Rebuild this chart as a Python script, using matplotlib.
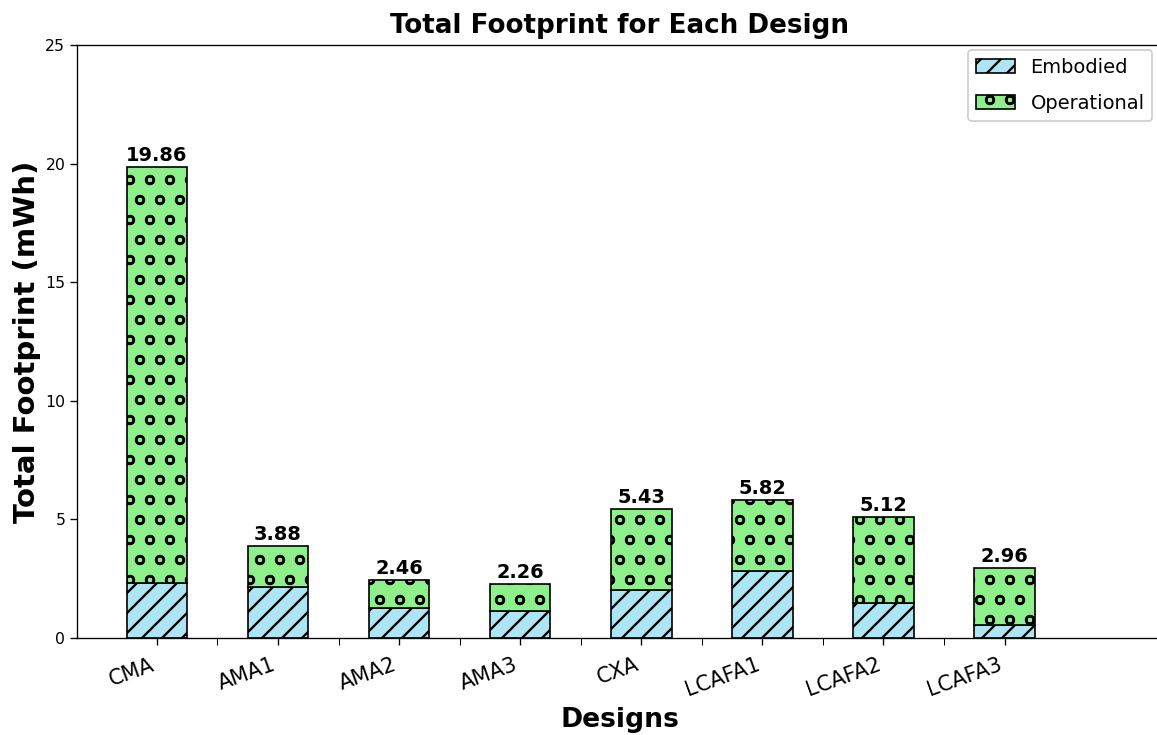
import numpy as np
import matplotlib
matplotlib.use("Agg")
import matplotlib.pyplot as plt

designs = ["CMA", "AMA1", "AMA2", "AMA3", "CXA", "LCAFA1", "LCAFA2", "LCAFA3"]
totals = [19.86, 3.88, 2.46, 2.26, 5.43, 5.82, 5.12, 2.96]
embodied = [2.32, 2.15, 1.26, 1.12, 2.01, 2.84, 1.48, 0.55]
operational = [t - e for t, e in zip(totals, embodied)]

# rendered at dpi 120 so the hatch pattern comes out as coarse as the original
DPI = 120
S = 100 / DPI  # font sizes below are thought of at dpi 100

plt.rcParams["hatch.linewidth"] = 1.4

fig = plt.figure(figsize=(1157 / DPI, 735 / DPI), dpi=DPI)
# axes run a bit past the right edge, like the cropped original
ax = fig.add_axes([77 / 1157, 1 - 638 / 735, 1.02 - 77 / 1157, (638 - 45) / 735])

x = np.arange(len(designs))
width = 0.5
ax.bar(x, embodied, width, color="#aee5f5", edgecolor="black", hatch="//",
       label="Embodied", linewidth=1.0)
ax.bar(x, operational, width, bottom=embodied, color="#8ef08a", edgecolor="black",
       hatch="o", label="Operational", linewidth=1.0)

for xi, t in zip(x, totals):
    ax.text(xi, t + 0.08, f"{t:.2f}", ha="center", va="bottom",
            fontsize=14 * S, fontweight="bold")

ax.set_xlim(-0.66, 8.45)
ax.set_ylim(0, 25)
ax.set_yticks([0, 5, 10, 15, 20, 25])
ax.tick_params(axis="y", labelsize=11.3 * S, length=4, pad=3)
ax.set_xticks(x)
ax.set_xticks(x[:-1] + 0.5, minor=True)
ax.set_xticklabels(designs, rotation=20, ha="right", fontsize=15 * S)
ax.tick_params(axis="x", which="both", length=4, pad=6)

ax.set_title("Total Footprint for Each Design", fontsize=18.8 * S,
             fontweight="bold", pad=7, x=0.492)
ax.set_xlabel("Designs", fontsize=19.2 * S, fontweight="bold", labelpad=4, x=0.492)
ax.set_ylabel("Total Footprint (mWh)", fontsize=21 * S, fontweight="bold", labelpad=2.5)

ax.spines["right"].set_visible(False)

ax.legend(loc="upper left", bbox_to_anchor=(0.808, 0.992), borderaxespad=0,
          fontsize=14 * S, handlelength=2.0, handleheight=0.7,
          handletextpad=0.8, borderpad=0.4, labelspacing=0.9, framealpha=1)

fig.savefig("out.png", dpi=DPI)
